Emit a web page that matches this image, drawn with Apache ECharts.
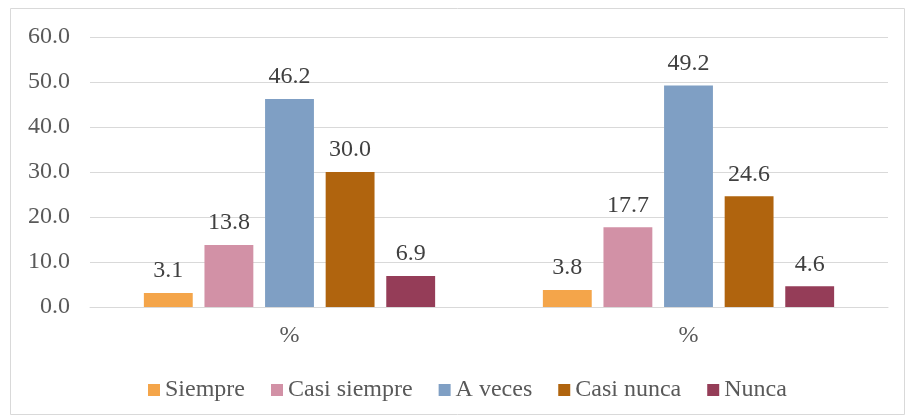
<!DOCTYPE html>
<html><head><meta charset="utf-8">
<script src="https://cdn.jsdelivr.net/npm/echarts@6/dist/echarts.min.js"></script>
<style>html,body{margin:0;padding:0;background:#fff}#c{width:906px;height:417px}</style>
</head><body><div id="c"></div>
<script>
const categories = ['%', '%'];
const seriesNames = ['Siempre', 'Casi siempre', 'A veces', 'Casi nunca', 'Nunca'];
const siempre = [3.1, 3.8];
const casiSiempre = [13.8, 17.7];
const aVeces = [46.2, 49.2];
const casiNunca = [30.0, 24.6];
const nunca = [6.9, 4.6];
const colors = ['#F4A54A', '#D291A6', '#7F9FC4', '#B0640E', '#953D58'];
const values = [siempre, casiSiempre, aVeces, casiNunca, nunca];
const font = '"Liberation Serif", "Times New Roman", serif';
const chart = echarts.init(document.getElementById('c'));
chart.setOption({
  animation: false,
  color: colors,
  graphic: [{type:'rect', shape:{x:10.5,y:8.5,width:894,height:406}, style:{fill:'none', stroke:'#d9d9d9', lineWidth:1}, z:-1}],
  grid: {left: 90, right: 18, top: 37, bottom: 110},
  legend: {
    top: 373, left: 143, itemWidth: 12, itemHeight: 12, itemGap: 26,
    icon: 'rect',
    textStyle: {fontFamily: font, fontSize: 24, color: '#595959', padding:[0,0,0,0]},
    data: seriesNames
  },
  xAxis: {
    type: 'category', data: categories,
    axisLine: {lineStyle: {color: '#d9d9d9', width: 1}},
    axisTick: {show: false},
    axisLabel: {fontFamily: font, fontSize: 24, color: '#595959', margin: 17}
  },
  yAxis: {
    type: 'value', min: 0, max: 60, interval: 10,
    axisLine: {show: false}, axisTick: {show: false},
    splitLine: {lineStyle: {color: '#d9d9d9', width: 1}},
    axisLabel: {fontFamily: font, fontSize: 24, color: '#595959', margin: 20,
      formatter: v => v.toFixed(1)}
  },
  series: seriesNames.map((n, i) => ({
    name: n, type: 'bar', data: values[i],
    barGap: '24%', barCategoryGap: '27%',
    label: {show: true, position: 'top', distance: 10, fontFamily: font, fontSize: 24, color: '#404040',
      formatter: p => p.value.toFixed(1)}
  }))
});
</script></body></html>
